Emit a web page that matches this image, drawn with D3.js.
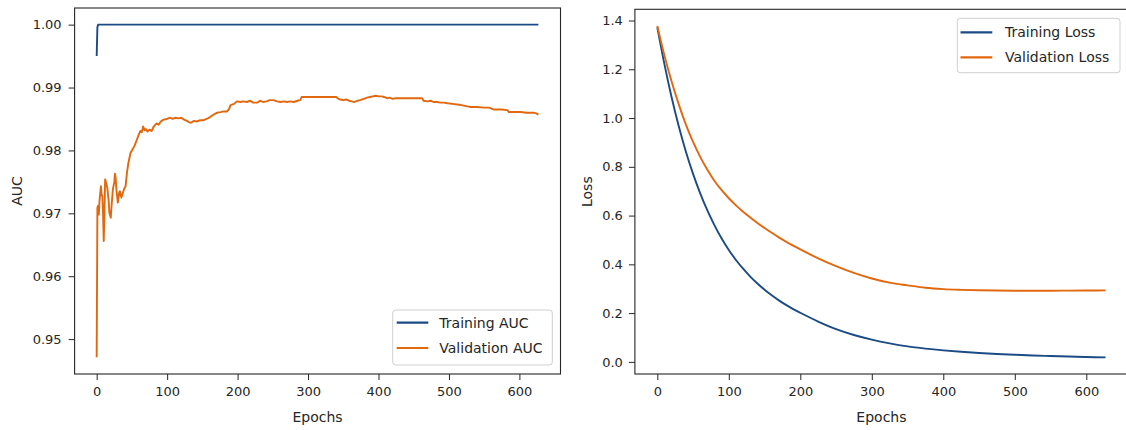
<!DOCTYPE html>
<html>
<head>
<meta charset="utf-8">
<script src="https://cdn.jsdelivr.net/npm/d3@7/dist/d3.min.js"></script>
<style>
  html, body { margin: 0; padding: 0; background: #fff; }
  svg { display: block; }
  text { font-family: "DejaVu Sans", sans-serif; fill: #262626; }
</style>
</head>
<body>
<svg id="chart" width="1126" height="430"></svg>
<script>
// ---------------- DATA ----------------
const trainAucEpochs = [0, 1, 2, 627];
const trainAuc       = [0.9950, 0.9996, 1.0000, 1.0000];

const valAucEpochs = [0,1,2,3,4,6,7,8,9,10,11,12,13,15,17,18,20,21,23,25,26,27,28,30,32,33,35,37,39,41,43,45,48,51,54,57,60,62,64,66,68,70,72,75,78,81,85,88,91,95,100,104,108,112,116,120,124,128,131,134,138,142,147,152,156,161,166,171,176,180,185,188,190,195,199,204,208,213,218,222,228,232,236,241,246,251,256,261,266,270,275,280,285,289,291,315,340,343,346,350,354,358,362,366,370,374,379,384,388,392,396,401,405,408,412,416,420,424,462,464,470,474,478,483,488,493,498,505,512,518,526,531,540,550,557,564,575,583,585,595,602,610,620,624,627];
const valAuc = [0.9471,0.9709,0.9712,0.9698,0.9720,0.9743,0.9730,0.9727,0.9700,0.9656,0.9700,0.9754,0.9750,0.9741,0.9720,0.9701,0.9693,0.9710,0.9738,0.9750,0.9763,0.9755,0.9738,0.9717,0.9733,0.9735,0.9725,0.9732,0.9739,0.9743,0.9765,0.9780,0.9796,0.9802,0.9808,0.9817,0.9826,0.9831,0.9829,0.9838,0.9832,0.9834,0.9830,0.9833,0.9831,0.9838,0.9843,0.9841,0.9846,0.9849,0.9850,0.9852,0.9850,0.9852,0.9851,0.9852,0.9849,0.9847,0.9845,0.9844,0.9847,0.9846,0.9848,0.9848,0.9850,0.9853,0.9857,0.9860,0.9861,0.9862,0.9862,0.9866,0.9872,0.9874,0.9878,0.9877,0.9878,0.9877,0.9879,0.9876,0.9876,0.9879,0.9877,0.9878,0.9880,0.9880,0.9878,0.9877,0.9878,0.9877,0.9878,0.9877,0.9879,0.9880,0.9885,0.9885,0.9885,0.9882,0.9881,0.9880,0.9881,0.9879,0.9878,0.9877,0.9879,0.9880,0.9882,0.9884,0.9885,0.9886,0.9887,0.9886,0.9886,0.9885,0.9883,0.9884,0.9882,0.9883,0.9883,0.9879,0.9878,0.9879,0.9877,0.9877,0.9876,0.9876,0.9875,0.9874,0.9873,0.9872,0.9870,0.9869,0.9869,0.9868,0.9868,0.9865,0.9865,0.9864,0.9861,0.9861,0.9861,0.9860,0.9860,0.9859,0.9857];

const lossEpochs = [0,10,20,30,40,50,60,70,80,90,100,110,120,130,140,150,160,170,180,190,200,225,250,275,300,325,350,375,400,425,450,475,500,525,550,575,600,627];
const trainLoss = [1.372,1.220,1.085,0.966,0.862,0.771,0.691,0.621,0.560,0.506,0.459,0.418,0.382,0.350,0.3215,0.296,0.273,0.2523,0.2336,0.2167,0.2014,0.1654,0.1344,0.1104,0.0914,0.0759,0.0634,0.0544,0.0472,0.0414,0.0366,0.0326,0.0292,0.0264,0.0240,0.0219,0.0201,0.0183];
const valLoss   = [1.378,1.256,1.150,1.056,0.973,0.902,0.841,0.788,0.742,0.704,0.671,0.642,0.616,0.5925,0.570,0.549,0.5293,0.5108,0.4933,0.4768,0.4611,0.4249,0.3929,0.3649,0.3419,0.3249,0.3139,0.3040,0.2985,0.2955,0.2935,0.2925,0.2920,0.2920,0.2920,0.2923,0.2926,0.2931];

const xTicks = [0,100,200,300,400,500,600];
const aucTicks = [0.95,0.96,0.97,0.98,0.99,1.00];
const lossTicks = [0.0,0.2,0.4,0.6,0.8,1.0,1.2,1.4];

const BLUE = "#1b4b84";
const ORANGE = "#e2680f";

// ---------------- DRAW ----------------
const svg = d3.select("#chart");

function padExtent(arrs) {
  const all = [].concat(...arrs);
  const lo = d3.min(all), hi = d3.max(all);
  const m = (hi - lo) * 0.05;
  return [lo - m, hi + m];
}

function panel(cfg) {
  const g = svg.append("g");
  const x = d3.scaleLinear().domain(padExtent(cfg.xs)).range([cfg.left, cfg.right]);
  const y = d3.scaleLinear().domain(padExtent(cfg.ys)).range([cfg.bottom, cfg.top]);

  cfg.series.forEach(s => {
    const pts = s.ex.map((e, i) => [e, s.v[i]]);
    g.append("path")
      .datum(pts)
      .attr("fill", "none")
      .attr("stroke", s.color)
      .attr("stroke-width", 1.9)
      .attr("stroke-linejoin", "round")
      .attr("d", d3.line().x(d => x(d[0])).y(d => y(d[1])).curve(cfg.curve));
  });

  const xa = g.append("g").attr("transform", `translate(0,${cfg.bottom})`)
    .call(d3.axisBottom(x).tickValues(xTicks).tickSize(6).tickPadding(7).tickFormat(d3.format("d")));
  const ya = g.append("g").attr("transform", `translate(${cfg.left},0)`)
    .call(d3.axisLeft(y).tickValues(cfg.yTicks).tickSize(6).tickPadding(cfg.yPad).tickFormat(d3.format(cfg.yFmt)));
  [xa, ya].forEach(a => {
    a.select(".domain").remove();
    a.selectAll(".tick line").attr("stroke", "#262626").attr("stroke-width", 1);
    a.selectAll(".tick text").style("font-family", "DejaVu Sans").style("font-size", "13px").attr("fill", "#262626");
  });

  g.append("rect")
    .attr("x", cfg.left).attr("y", cfg.top)
    .attr("width", cfg.right - cfg.left).attr("height", cfg.bottom - cfg.top)
    .attr("fill", "none").attr("stroke", "#262626").attr("stroke-width", 1.1);

  g.append("text")
    .attr("x", (cfg.left + cfg.right) / 2).attr("y", 422)
    .attr("text-anchor", "middle").style("font-size", "14px").text("Epochs");
  g.append("text")
    .attr("transform", `translate(${cfg.yLabelX},${(cfg.top + cfg.bottom) / 2}) rotate(-90)`)
    .attr("text-anchor", "middle").attr("dy", "0.35em").style("font-size", "14px").text(cfg.yLabel);

  const L = cfg.legend;
  g.append("rect")
    .attr("x", L.x).attr("y", L.y).attr("width", L.w).attr("height", L.h)
    .attr("rx", 3).attr("fill", "white").attr("fill-opacity", 0.85)
    .attr("stroke", "#cfcfcf").attr("stroke-width", 1);
  cfg.series.forEach((s, i) => {
    const yy = L.rows[i];
    g.append("line")
      .attr("x1", L.lx1).attr("x2", L.lx2).attr("y1", yy).attr("y2", yy)
      .attr("stroke", s.color).attr("stroke-width", 2.2);
    g.append("text")
      .attr("x", L.tx).attr("y", yy).attr("dy", "0.36em")
      .style("font-size", "14px").text(s.name);
  });
}

panel({
  left: 74.6, right: 560.5, top: 8, bottom: 374,
  xs: [trainAucEpochs, valAucEpochs], ys: [trainAuc, valAuc],
  series: [
    { name: "Training AUC", ex: trainAucEpochs, v: trainAuc, color: BLUE },
    { name: "Validation AUC", ex: valAucEpochs, v: valAuc, color: ORANGE }
  ],
  curve: d3.curveLinear,
  yTicks: aucTicks, yFmt: ".2f", yPad: 7,
  yLabel: "AUC", yLabelX: 17,
  legend: { x: 392.7, y: 310, w: 159.6, h: 55, rows: [322.6, 348], lx1: 396.7, lx2: 428.3, tx: 439.3 }
});

panel({
  left: 634.9, right: 1128, top: 9.3, bottom: 374,
  xs: [lossEpochs], ys: [trainLoss, valLoss],
  series: [
    { name: "Training Loss", ex: lossEpochs, v: trainLoss, color: BLUE },
    { name: "Validation Loss", ex: lossEpochs, v: valLoss, color: ORANGE }
  ],
  curve: d3.curveMonotoneX,
  yTicks: lossTicks, yFmt: ".1f", yPad: 6,
  yLabel: "Loss", yLabelX: 587,
  legend: { x: 957.3, y: 18.3, w: 162.7, h: 54.4, rows: [32.3, 57.3], lx1: 960.5, lx2: 992.3, tx: 1005 }
});
</script>
</body>
</html>
